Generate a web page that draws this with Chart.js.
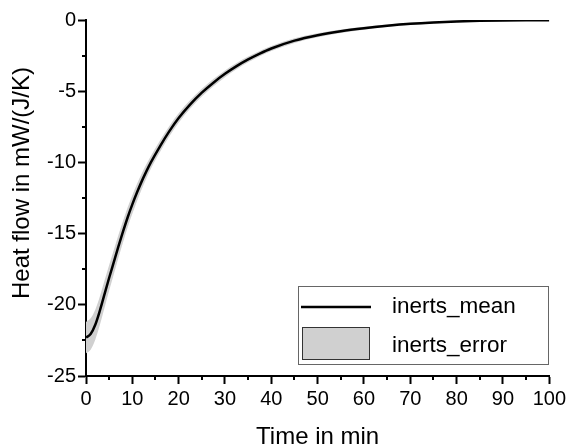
<!DOCTYPE html>
<html>
<head>
<meta charset="utf-8">
<title>Heat flow</title>
<script src="https://cdn.jsdelivr.net/npm/chart.js@4.4.1/dist/chart.umd.min.js"></script>
<style>
  html, body { margin: 0; padding: 0; background: #fff; }
  #wrap { width: 569px; height: 447px; }
</style>
</head>
<body>
<div id="wrap"><canvas id="heat" width="569" height="447"></canvas></div>
<script>
// time in min, mean heat flow and its error (mW/(J/K))
const time = [0, 1, 2, 3, 4, 5, 6, 7, 8, 9, 10, 11, 12, 13, 14, 16, 18, 20, 22.5, 25,
  27.5, 30, 32.5, 35, 37.5, 40, 45, 50, 55, 60, 65, 70, 75, 80, 85, 90, 95, 100];
const heatMean = [-22.3, -22.05, -21.4, -20.4, -19.25, -18.1, -17.0, -15.9, -14.85, -13.85,
  -12.95, -12.12, -11.35, -10.65, -10.0, -8.85, -7.8, -6.88, -5.92, -5.1,
  -4.4, -3.78, -3.24, -2.77, -2.36, -2.0, -1.45, -1.07, -0.79, -0.58,
  -0.41, -0.27, -0.17, -0.1, -0.06, -0.035, -0.02, -0.01];
const heatErr = [1.1, 1.1, 1.05, 1.0, 0.95, 0.9, 0.85, 0.8, 0.75, 0.7,
  0.65, 0.6, 0.55, 0.5, 0.45, 0.4, 0.36, 0.33, 0.3, 0.28,
  0.26, 0.24, 0.22, 0.2, 0.19, 0.18, 0.16, 0.14, 0.12, 0.1,
  0.09, 0.08, 0.07, 0.06, 0.05, 0.05, 0.04, 0.04];

const xTicks = [0, 10, 20, 30, 40, 50, 60, 70, 80, 90, 100];
const yTicks = [-25, -20, -15, -10, -5, 0];
const xMinor = [5, 15, 25, 35, 45, 55, 65, 75, 85, 95];
const yMinor = [-22.5, -17.5, -12.5, -7.5, -2.5];

const xTitle = 'Time in min';
const yTitle = 'Heat flow in mW/(J/K)';

const fontFamily = "'Liberation Sans', Arial, sans-serif";

const meanPts = time.map((t, i) => ({ x: t, y: heatMean[i] }));
const upperPts = time.map((t, i) => ({ x: t, y: heatMean[i] + heatErr[i] }));
const lowerPts = time.map((t, i) => ({ x: t, y: heatMean[i] - heatErr[i] }));

// short outward ticks halfway between the labelled ones
const minorTicks = {
  id: 'minorTicks',
  afterDraw(chart) {
    const { ctx, chartArea, scales: { x, y } } = chart;
    ctx.save();
    ctx.strokeStyle = '#000';
    ctx.lineWidth = 2;
    ctx.beginPath();
    xMinor.forEach(v => {
      const px = Math.round(x.getPixelForValue(v));
      ctx.moveTo(px, chartArea.bottom);
      ctx.lineTo(px, chartArea.bottom + 4);
    });
    yMinor.forEach(v => {
      const py = Math.round(y.getPixelForValue(v));
      ctx.moveTo(chartArea.left, py);
      ctx.lineTo(chartArea.left - 4, py);
    });
    ctx.stroke();
    ctx.restore();
  }
};

// y axis title, sitting a little above the middle of the axis
const yAxisTitle = {
  id: 'yAxisTitle',
  afterDraw(chart) {
    const { ctx, chartArea } = chart;
    const cy = (chartArea.top + chartArea.bottom) / 2 - 15;
    ctx.save();
    ctx.translate(22, cy);
    ctx.rotate(-Math.PI / 2);
    ctx.fillStyle = '#000';
    ctx.font = `24px ${fontFamily}`;
    ctx.textAlign = 'center';
    ctx.textBaseline = 'middle';
    ctx.fillText(yTitle, 0, 0);
    ctx.restore();
  }
};

// framed legend in the lower right corner of the plot
const boxLegend = {
  id: 'boxLegend',
  afterDraw(chart) {
    const { ctx, chartArea } = chart;
    const line = chart.data.datasets[0];
    const band = chart.data.datasets[1];
    const w = 250, h = 78;
    const left = Math.round(chartArea.right - w - 1);
    const top = Math.round(chartArea.bottom - h - 12);
    ctx.save();
    ctx.fillStyle = '#fff';
    ctx.fillRect(left, top, w, h);
    ctx.strokeStyle = '#666';
    ctx.lineWidth = 1;
    ctx.strokeRect(left + 0.5, top + 0.5, w, h);

    ctx.strokeStyle = line.borderColor;
    ctx.lineWidth = 2.5;
    ctx.beginPath();
    ctx.moveTo(left + 3, top + 21);
    ctx.lineTo(left + 73, top + 21);
    ctx.stroke();

    ctx.fillStyle = band.backgroundColor;
    ctx.fillRect(left + 4, top + 41, 68, 33);
    ctx.strokeStyle = '#333';
    ctx.lineWidth = 1;
    ctx.strokeRect(left + 4.5, top + 41.5, 67, 32);

    ctx.fillStyle = '#000';
    ctx.font = `22.5px ${fontFamily}`;
    ctx.textBaseline = 'middle';
    ctx.fillText(line.label, left + 94, top + 21);
    ctx.fillText(band.label, left + 94, top + 60);
    ctx.restore();
  }
};

new Chart(document.getElementById('heat'), {
  type: 'line',
  data: {
    datasets: [
      {
        label: 'inerts_mean',
        data: meanPts,
        borderColor: '#000',
        borderWidth: 2.5,
        pointRadius: 0,
        cubicInterpolationMode: 'monotone',
        fill: false
      },
      {
        label: 'inerts_error',
        data: upperPts,
        borderWidth: 0,
        borderColor: 'rgba(0,0,0,0)',
        backgroundColor: '#d0d0d0',
        pointRadius: 0,
        cubicInterpolationMode: 'monotone',
        fill: '+1'
      },
      {
        label: 'inerts_error_low',
        data: lowerPts,
        borderWidth: 0,
        borderColor: 'rgba(0,0,0,0)',
        pointRadius: 0,
        cubicInterpolationMode: 'monotone',
        fill: false
      }
    ]
  },
  options: {
    responsive: false,
    animation: false,
    layout: { padding: { top: 20, right: 18, left: 0, bottom: 0 } },
    plugins: {
      legend: { display: false },
      tooltip: { enabled: false }
    },
    scales: {
      x: {
        type: 'linear',
        min: 0,
        max: 100,
        afterBuildTicks: s => { s.ticks = xTicks.map(v => ({ value: v })); },
        afterFit: s => { s.height = 71; },
        ticks: {
          font: { size: 20, family: fontFamily },
          color: '#000',
          padding: 3,
          maxRotation: 0,
          autoSkip: false
        },
        grid: { drawOnChartArea: false, drawTicks: true, tickLength: 8, tickWidth: 2, tickColor: '#000' },
        border: { display: true, color: '#000', width: 2 },
        title: {
          display: true,
          text: xTitle,
          color: '#000',
          font: { size: 24, family: fontFamily, lineHeight: 0.8 },
          padding: 0
        }
      },
      y: {
        type: 'linear',
        min: -25,
        max: 0,
        afterBuildTicks: s => { s.ticks = yTicks.map(v => ({ value: v })); },
        afterFit: s => { s.width = 86; },
        ticks: {
          font: { size: 20, family: fontFamily },
          color: '#000',
          padding: 2,
          autoSkip: false
        },
        grid: { drawOnChartArea: false, drawTicks: true, tickLength: 8, tickWidth: 2, tickColor: '#000' },
        border: { display: true, color: '#000', width: 2 },
        title: { display: false }
      }
    }
  },
  plugins: [minorTicks, yAxisTitle, boxLegend]
});
</script>
</body>
</html>
